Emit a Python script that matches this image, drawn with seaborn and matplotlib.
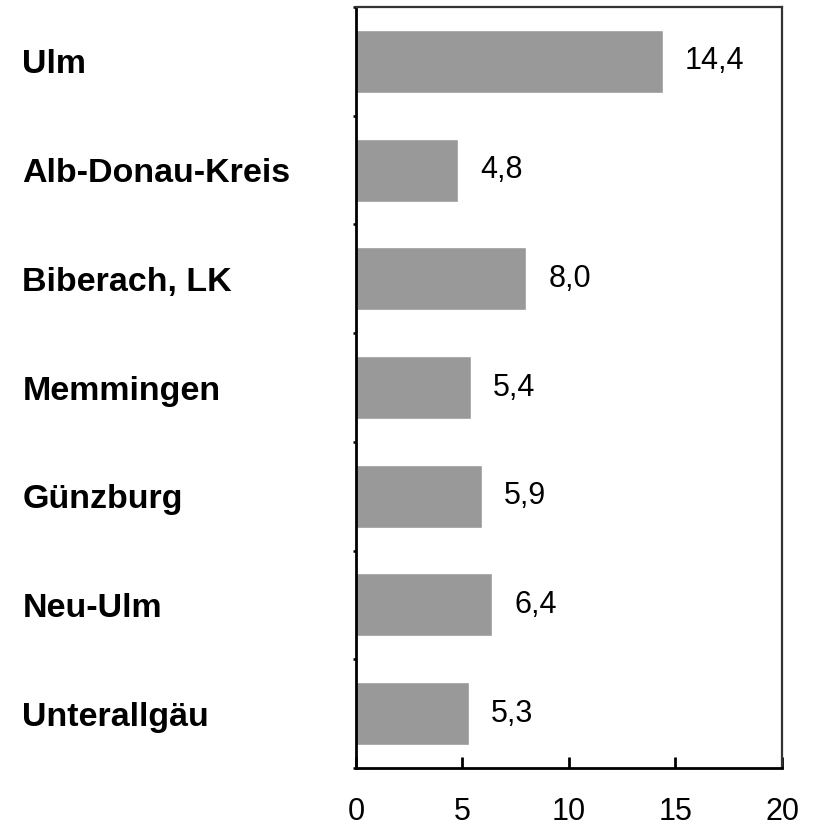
import pandas as pd
import seaborn as sns
import matplotlib.pyplot as plt
from matplotlib.ticker import FixedLocator

regions = ["Ulm", "Alb-Donau-Kreis", "Biberach, LK", "Memmingen",
           "Günzburg", "Neu-Ulm", "Unterallgäu"]
values = [14.4, 4.8, 8.0, 5.4, 5.9, 6.4, 5.3]
xticks = [0, 5, 10, 15, 20]

df = pd.DataFrame({"region": regions, "value": values})

sns.set_style("white")
plt.rcParams['font.family'] = ['Liberation Sans', 'DejaVu Sans']
plt.rcParams['text.color'] = 'black'
plt.rcParams['xtick.color'] = 'black'
plt.rcParams['ytick.color'] = 'black'

fig = plt.figure(figsize=(8.18, 8.35), dpi=100)
ax = fig.add_axes([0.435, 0.0802, 0.521, 0.9114])

sns.barplot(data=df, x="value", y="region", orient="h", color="#999999",
            saturation=1, width=0.58, ax=ax)

ax.set_xlim(0, 20)
ax.set_ylim(len(regions) - 0.5, -0.5)
ax.set_xlabel("")
ax.set_ylabel("")

# value labels with German decimal comma
for cont in ax.containers:
    ax.bar_label(cont, labels=[f"{v:.1f}".replace(".", ",") for v in values],
                 padding=16, fontsize=22, color="black")

# x axis
ax.set_xticks(xticks)
ax.set_xticklabels([str(t) for t in xticks], fontsize=22)
ax.tick_params(axis="x", direction="in", length=8, width=2, pad=21,
               bottom=True, colors="black")

# y axis: labels at bar centres, tick marks between bars
ax.set_yticks(range(len(regions)))
ax.set_yticklabels(regions, fontsize=24.5, fontweight="bold", ha="left")
ax.tick_params(axis="y", which="major", length=0, pad=240, labelcolor="black")
ax.yaxis.set_minor_locator(FixedLocator([i - 0.5 for i in range(len(regions) + 1)]))
ax.tick_params(axis="y", which="minor", direction="out", length=2.5, width=1.8,
               color="black", left=True)

for side in ["left", "bottom"]:
    ax.spines[side].set_color("black")
    ax.spines[side].set_linewidth(2)
for side in ["top", "right"]:
    ax.spines[side].set_color("#333333")
    ax.spines[side].set_linewidth(1.6)

fig.savefig("out.png", dpi=100)
